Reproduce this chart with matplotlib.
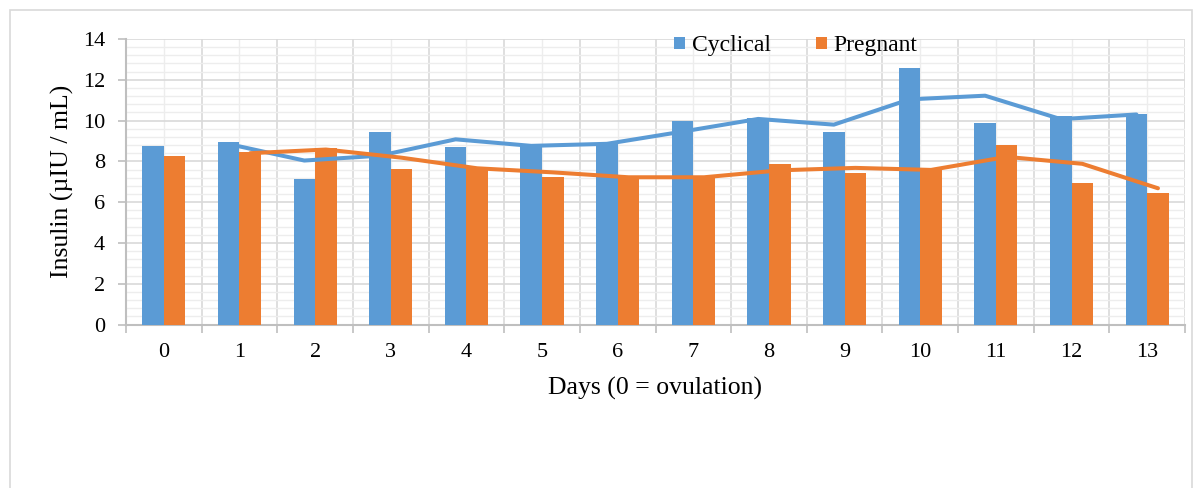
import numpy as np
import matplotlib
matplotlib.use("Agg")
import matplotlib.pyplot as plt
from matplotlib.patches import Rectangle
from matplotlib.ticker import MultipleLocator

plt.rcParams['font.family'] = ['Liberation Serif', 'DejaVu Serif']

days = ["0", "1", "2", "3", "4", "5", "6", "7", "8", "9", "10", "11", "12", "13"]
cyclical = [8.74, 8.97, 7.13, 9.46, 8.69, 8.80, 8.91, 9.99, 10.14, 9.45, 12.60, 9.86, 10.23, 10.34]
pregnant = [8.24, 8.47, 8.66, 7.61, 7.66, 7.22, 7.16, 7.24, 7.86, 7.45, 7.65, 8.80, 6.96, 6.45]

# trend lines (2-day moving average), start on day 1
cyc_trend = [8.85, 8.04, 8.28, 9.08, 8.76, 8.86, 9.46, 10.08, 9.80, 11.04, 11.22, 10.07, 10.30]
preg_trend = [8.40, 8.58, 8.18, 7.66, 7.46, 7.22, 7.22, 7.56, 7.68, 7.58, 8.22, 7.88, 6.68]

blue = '#5B9BD5'
orange = '#ED7D31'

W, H = 1202, 488
fig = plt.figure(figsize=(W / 100, H / 100), dpi=100)
ax = fig.add_axes([126 / W, 1 - 324.5 / H, (1185 - 126) / W, (324.5 - 39) / H])

# outer chart border
fig.patches.append(Rectangle((9.5 / W, -0.05), (1192 - 9.5) / W, 1.05 - 9.5 / H,
                             transform=fig.transFigure, fill=False,
                             edgecolor='#d9d9d9', linewidth=1.2))

x = np.arange(len(days)) + 0.5
bw = 0.285
ax.bar(x - bw / 2, cyclical, bw, color=blue, label='Cyclical', zorder=3)
ax.bar(x + bw / 2, pregnant, bw, color=orange, label='Pregnant', zorder=3)

# trend lines sit on the bar centres of their own series
xt = x[1:]
ax.plot(xt - bw / 2, cyc_trend, color=blue, linewidth=2.9, zorder=4, solid_capstyle='round')
ax.plot(xt + bw / 2, preg_trend, color=orange, linewidth=2.9, zorder=4, solid_capstyle='round')

ax.set_xlim(0, len(days))
ax.set_ylim(0, 14)

ax.xaxis.set_major_locator(MultipleLocator(1))
ax.xaxis.set_major_formatter(plt.NullFormatter())
ax.set_xticks(x, minor=True)
ax.set_xticklabels(days, minor=True)
ax.yaxis.set_major_locator(MultipleLocator(2))
ax.yaxis.set_minor_locator(MultipleLocator(0.4))

ax.grid(which='major', color='#d9d9d9', linewidth=1.2, zorder=0)
ax.grid(which='minor', color='#ededed', linewidth=1.0, zorder=0)
ax.set_axisbelow(True)

for s in ['top', 'right']:
    ax.spines[s].set_visible(False)
for s in ['left', 'bottom']:
    ax.spines[s].set_color('#bfbfbf')
    ax.spines[s].set_linewidth(1.5)

ax.tick_params(axis='x', which='major', length=6, color='#bfbfbf', width=1.2)
ax.tick_params(axis='x', which='minor', length=0, pad=13, labelsize=16)
ax.tick_params(axis='y', which='major', length=6, color='#bfbfbf', width=1.2,
               pad=9, labelsize=16)
ax.tick_params(axis='y', which='minor', length=0)

fig.text(62 / W, 1 - 181.75 / H, 'Insulin (µIU / mL)', rotation=90,
         ha='center', va='center', fontsize=18.5)
fig.text(655 / W, 1 - 388 / H, 'Days (0 = ovulation)',
         ha='center', va='center', fontsize=18.5)

ax.legend(loc='center', bbox_to_anchor=(796 / W, 1 - 46 / H),
          bbox_transform=fig.transFigure, ncol=2, frameon=False,
          fontsize=17, handlelength=0.45, handleheight=0.45,
          handletextpad=0.3, columnspacing=1.9, borderpad=0, borderaxespad=0)

fig.savefig('out.png', dpi=100)
